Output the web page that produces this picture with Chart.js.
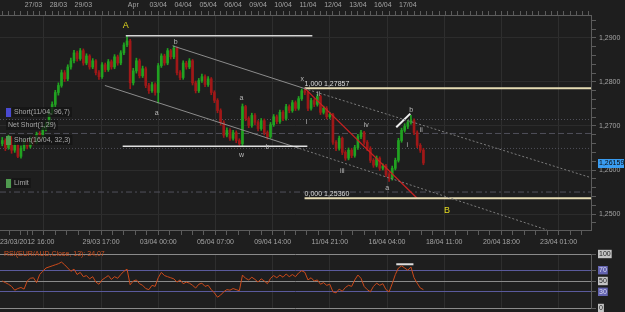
<!DOCTYPE html>
<html>
<head>
<meta charset="utf-8">
<script src="https://cdn.jsdelivr.net/npm/chart.js@4.4.1/dist/chart.umd.min.js"></script>
<style>
  html, body { margin: 0; padding: 0; background: #1e1e1e; }
  #wrap { position: relative; width: 625px; height: 312px; overflow: hidden; background: #1e1e1e; }
  #price-chart { position: absolute; left: 0; top: 0; }
  #rsi-chart { position: absolute; left: 0; top: 248px; }
</style>
</head>
<body>
<div id="wrap">
  <canvas id="price-chart" width="625" height="250"></canvas>
  <canvas id="rsi-chart" width="625" height="64"></canvas>
</div>
<script>
// EUR/AUD, 3 hour bars, bar 0 = 23/03/2012 18:00, bar 50 = 03/04 00:00
const firstOpen = 1.2660;
const closes = [
  1.2667,1.2651,1.2672,1.2645,1.2656,1.2631,1.2649,1.2665,1.2654,1.2672,
  1.2663,1.2681,1.2674,1.2694,1.2703,1.2731,1.2749,1.2776,1.2792,1.2821,
  1.2807,1.2834,1.2848,1.2866,1.2853,1.2871,1.2843,1.2859,1.2834,1.2848,
  1.2821,1.2812,1.2839,1.2828,1.2846,1.2834,1.2857,1.2843,1.2866,1.2884,
  1.2893,1.2798,1.2825,1.2848,1.2814,1.2830,1.2792,1.2780,1.2794,1.2776,
  1.2837,1.2859,1.2843,1.2871,1.2857,1.2877,1.2821,1.2810,1.2843,1.2834,
  1.2848,1.2798,1.2780,1.2803,1.2812,1.2794,1.2807,1.2776,1.2758,1.2735,
  1.2708,1.2679,1.2690,1.2672,1.2685,1.2667,1.2660,1.2744,1.2717,1.2701,
  1.2724,1.2708,1.2694,1.2712,1.2685,1.2676,1.2703,1.2721,1.2710,1.2731,
  1.2717,1.2744,1.2735,1.2753,1.2740,1.2762,1.2780,1.2776,1.2740,1.2758,
  1.2749,1.2767,1.2731,1.2740,1.2721,1.2726,1.2663,1.2649,1.2672,1.2640,
  1.2627,1.2645,1.2633,1.2651,1.2676,1.2685,1.2663,1.2649,1.2622,1.2611,
  1.2627,1.2604,1.2609,1.2590,1.2581,1.2604,1.2622,1.2667,1.2690,1.2699,
  1.2708,1.2712,1.2685,1.2656,1.2645,1.2616
];
const highs = [
  1.2674,1.2671,1.2679,1.2676,1.2662,1.2659,1.2655,1.2670,1.2669,1.2677,
  1.2678,1.2686,1.2687,1.2699,1.2709,1.2736,1.2755,1.2781,1.2798,1.2827,
  1.2826,1.2839,1.2854,1.2872,1.2870,1.2876,1.2875,1.2864,1.2862,1.2853,
  1.2851,1.2826,1.2844,1.2843,1.2851,1.2850,1.2862,1.2861,1.2871,1.2889,
  1.2905,1.2897,1.2831,1.2854,1.2852,1.2836,1.2834,1.2797,1.2799,1.2798,
  1.2842,1.2864,1.2863,1.2876,1.2874,1.2882,1.2880,1.2826,1.2848,1.2847,
  1.2853,1.2851,1.2802,1.2808,1.2818,1.2816,1.2812,1.2810,1.2780,1.2762,
  1.2739,1.2712,1.2696,1.2694,1.2690,1.2689,1.2671,1.2750,1.2747,1.2721,
  1.2729,1.2728,1.2712,1.2717,1.2716,1.2689,1.2708,1.2726,1.2725,1.2736,
  1.2735,1.2749,1.2748,1.2758,1.2757,1.2767,1.2784,1.2786,1.2779,1.2763,
  1.2762,1.2772,1.2770,1.2745,1.2744,1.2731,1.2729,1.2667,1.2677,1.2675,
  1.2644,1.2650,1.2649,1.2656,1.2681,1.2690,1.2688,1.2667,1.2653,1.2626,
  1.2632,1.2630,1.2614,1.2613,1.2594,1.2609,1.2627,1.2672,1.2695,1.2705,
  1.2713,1.2724,1.2716,1.2689,1.2660,1.2649
];
const lows = [
  1.2655,1.2644,1.2647,1.2638,1.2640,1.2628,1.2627,1.2644,1.2648,1.2650,
  1.2657,1.2659,1.2668,1.2670,1.2689,1.2699,1.2726,1.2744,1.2770,1.2788,
  1.2801,1.2803,1.2829,1.2843,1.2847,1.2849,1.2838,1.2839,1.2829,1.2830,
  1.2816,1.2806,1.2808,1.2823,1.2824,1.2829,1.2830,1.2838,1.2839,1.2862,
  1.2880,1.2785,1.2793,1.2820,1.2809,1.2810,1.2787,1.2774,1.2776,1.2770,
  1.2752,1.2833,1.2838,1.2839,1.2852,1.2853,1.2816,1.2805,1.2806,1.2829,
  1.2830,1.2793,1.2775,1.2776,1.2799,1.2789,1.2790,1.2771,1.2753,1.2730,
  1.2702,1.2674,1.2675,1.2667,1.2668,1.2662,1.2656,1.2654,1.2712,1.2696,
  1.2697,1.2703,1.2689,1.2690,1.2680,1.2670,1.2672,1.2699,1.2705,1.2706,
  1.2712,1.2713,1.2730,1.2731,1.2735,1.2736,1.2758,1.2771,1.2735,1.2736,
  1.2744,1.2745,1.2726,1.2727,1.2716,1.2717,1.2658,1.2644,1.2645,1.2635,
  1.2622,1.2623,1.2628,1.2629,1.2647,1.2671,1.2658,1.2644,1.2617,1.2606,
  1.2607,1.2599,1.2600,1.2585,1.2574,1.2577,1.2600,1.2618,1.2663,1.2686,
  1.2694,1.2704,1.2680,1.2651,1.2640,1.2612
];
// RSI(13) on close
const rsiValues = [
  50,47,44,40,33,36,38,35,50,55,
  56,47,62,68,74,76,78,80,82,85,
  80,74,68,72,62,66,58,60,54,58,
  48,44,52,56,60,53,58,55,62,68,
  72,43,50,52,45,42,36,34,42,40,
  56,66,60,58,56,54,48,52,45,48,
  46,42,37,44,46,40,42,34,28,20,
  24,30,34,33,36,34,32,61,55,52,
  57,53,48,54,50,45,55,60,56,61,
  57,63,58,62,58,65,69,66,52,56,
  50,52,44,47,42,44,30,28,35,31,
  38,42,40,52,61,55,40,34,30,40,
  46,42,45,34,30,45,62,74,78,74,
  70,76,56,46,37,34.07
];

// axis labels
const dayLabels = ['27/03','28/03','29/03','','Apr','03/04','04/04','05/04','06/04',
                   '09/04','10/04','11/04','12/04','13/04','16/04','17/04'];
const timeLabels = ['29/03 17:00','03/04 00:00','05/04 07:00','09/04 14:00','11/04 21:00',
                    '16/04 04:00','18/04 11:00','20/04 18:00','23/04 01:00'];
const firstTimeLabel = '23/03/2012 16:00';
const priceLabels = [1.25, 1.26, 1.27, 1.28, 1.29];
const rsiLevels = [0, 30, 50, 70, 100];
const lastPrice = 1.26159;

// drawn objects: [bar, price]
const lineA = [[39.6, 1.2905], [99.4, 1.2905]];
const lineW = [[38.6, 1.2654], [97.8, 1.2654]];
const channelTop = [[54.6, 1.2882], [96.9, 1.2785]];
const channelTopExt = [[96.9, 1.2785], [188.1, 1.2584]];
const channelLow = [[32.9, 1.2792], [95.3, 1.2649]];
const channelLowExt = [[95.3, 1.2649], [174.6, 1.2464]];
const redTrend = [[96.9, 1.2786], [133.0, 1.2536]];
const whiteSwing = [[126.3, 1.2697], [130.8, 1.2728]];
const fibLevels = [1.27857, 1.25360];
const fibNames = ['1,000 1,27857', '0,000 1,25360'];
const orderLevels = [1.27147, 1.26830, 1.26490, 1.25500];
const rsiMark = [[126.3, 81], [131.8, 81]];

const waveText  = ['A', 'b', 'a', 'a', 'w', 'b', 'x', 'ii', 'i', 'iv', 'iii', 'a', 'b', 'ii', 'i', 'B'];
const waveBar   = [39.6, 55.6, 49.5, 76.7, 76.7, 85.0, 96.2, 101.4, 97.5, 116.7, 109.0, 123.4, 131.1, 134.3, 129.8, 142.6];
const wavePrice = [1.2929, 1.2891, 1.2730, 1.2764, 1.2633, 1.2651, 1.2807, 1.2773, 1.2710, 1.2701, 1.2597, 1.2559, 1.2737, 1.2690, 1.2656, 1.2509];

const X_MIN = -0.72, X_MAX = 188.72;
const FONT = 'Liberation Sans';
Chart.defaults.font.family = FONT;
Chart.defaults.font.size = 7;

// --- candles ---
const opens = [firstOpen].concat(closes.slice(0, -1));
const bodies = closes.map((c, i) => ({ x: i, y: [opens[i], c] }));
const wicks = closes.map((c, i) => ({ x: i, y: [lows[i], highs[i]] }));
const candleColors = closes.map((c, i) => c >= opens[i] ? '#21a221' : '#a01818');

function pts(list) { return list.map(p => ({ x: p[0], y: p[1] })); }
function seg(list, color, width, dash) {
  return { type: 'line', data: pts(list), borderColor: color, borderWidth: width,
           borderDash: dash || [], pointRadius: 0, fill: false, tension: 0, order: 1 };
}
function hline(level, dash) {
  return { type: 'line', data: [{ x: X_MIN, y: level }, { x: X_MAX, y: level }],
           borderColor: '#50505a', borderWidth: 1, borderDash: dash,
           pointRadius: 0, fill: false, order: 20 };
}

// tick lists
const topTicks = [];
for (let b = 0; b <= 188; b += 2) {
  const k = (b - 10) / 8;
  const lbl = (Number.isInteger(k) && k >= 0 && k < dayLabels.length) ? dayLabels[k] : '';
  topTicks.push({ value: b, label: lbl });
}
const bottomTicks = [{ value: 8.0, label: firstTimeLabel, grid: false }];
const step = 55 / 3;
for (let m = 0; ; m++) {
  const v = 13.333 - 3 * step / 5 + m * step / 5;
  if (v > X_MAX) break;
  const k = Math.round((v - 13.333) / step);
  const major = m % 5 === 3;
  bottomTicks.push({ value: v, label: major && k >= 1 ? timeLabels[k - 1] : '', grid: major });
}
bottomTicks.sort((a, b) => a.value - b.value);
const majorXTicks = bottomTicks.filter(t => t.grid).map(t => t.value);

const priceTicks = [];
for (let k = 624; k <= 647; k++) priceTicks.push(k * 0.002);
function isMajorPrice(v) { return priceLabels.some(p => Math.abs(p - v) < 1e-6); }

// --- overlay texts for the price panel ---
const priceOverlay = {
  id: 'priceOverlay',
  afterDraw(chart) {
    const { ctx, scales: { x, y } } = chart;
    ctx.save();
    ctx.textAlign = 'center';
    ctx.textBaseline = 'middle';
    waveText.forEach((t, i) => {
      const big = t === 'A' || t === 'B';
      ctx.font = (big ? '9px ' : '7px ') + '"' + FONT + '"';
      ctx.fillStyle = big ? '#e6dc1e' : '#b8b8b8';
      ctx.fillText(t, x.getPixelForValue(waveBar[i]), y.getPixelForValue(wavePrice[i]));
    });
    ctx.font = '7px "' + FONT + '"';
    ctx.textAlign = 'left';
    ctx.textBaseline = 'bottom';
    ctx.fillStyle = '#dcdcdc';
    fibLevels.forEach((lv, i) => {
      ctx.fillText(fibNames[i], x.getPixelForValue(96.9), y.getPixelForValue(lv) - 1);
    });
    // order tags on the left
    const tags = [
      { text: 'Short(11/04, 96,7)', sq: '#4a4ad2', py: 112 },
      { text: 'Net Short(1,29)', sq: null, py: 125 },
      { text: 'Short(16/04, 32,3)', sq: '#4f9a4f', py: 140 },
      { text: 'Limit', sq: '#4f9a4f', py: 183 }
    ];
    ctx.textBaseline = 'middle';
    tags.forEach(t => {
      const w = ctx.measureText(t.text).width;
      const tx = t.sq ? 14 : 8;
      ctx.fillStyle = 'rgba(20,20,20,0.75)';
      ctx.fillRect(tx - 2, t.py - 5, w + 4, 10);
      if (t.sq) { ctx.fillStyle = t.sq; ctx.fillRect(6, t.py - 4, 5, 9); }
      ctx.fillStyle = '#a8a8a8';
      ctx.fillText(t.text, tx, t.py);
    });
    // last price tag
    const py = y.getPixelForValue(lastPrice);
    ctx.fillStyle = '#3a9df2';
    ctx.fillRect(598, py - 4, 26, 9);
    ctx.fillStyle = '#0a0a0a';
    ctx.fillText(lastPrice.toFixed(5).replace('.', ','), 599, py + 0.5);
    ctx.restore();
  }
};

new Chart(document.getElementById('price-chart'), {
  type: 'bar',
  data: {
    datasets: [
      hline(orderLevels[0], [1, 2]),
      hline(orderLevels[1], [6, 3]),
      hline(orderLevels[2], [1, 2]),
      hline(orderLevels[3], [6, 3, 2, 3]),
      { label: 'wicks', data: wicks, backgroundColor: candleColors, barThickness: 1, grouped: false, order: 6 },
      { label: 'bodies', data: bodies, backgroundColor: candleColors, barThickness: 2, grouped: false, order: 5 },
      seg(lineA, '#d6d6d6', 1.5),
      seg(lineW, '#e0e0e0', 1.5),
      seg(channelTop, '#8c8c8c', 1),
      seg(channelTopExt, '#7c7c7c', 1, [2, 2]),
      seg(channelLow, '#8c8c8c', 1),
      seg(channelLowExt, '#7c7c7c', 1, [2, 2]),
      seg([[96.9, fibLevels[0]], [X_MAX, fibLevels[0]]], '#e6dcb4', 2),
      seg([[96.9, fibLevels[1]], [X_MAX, fibLevels[1]]], '#e6dcb4', 2),
      seg(redTrend, '#c82222', 1.3),
      seg(whiteSwing, '#f0f0f0', 2)
    ]
  },
  options: {
    responsive: false,
    animation: false,
    layout: { padding: 0 },
    plugins: { legend: { display: false }, tooltip: { enabled: false } },
    scales: {
      x: {
        type: 'linear', position: 'bottom', min: X_MIN, max: X_MAX, offset: false,
        afterBuildTicks: s => { s.ticks = bottomTicks.map(t => ({ value: t.value })); },
        afterFit: s => { s.height = 20; s.paddingLeft = 0; s.paddingRight = 0; },
        ticks: { autoSkip: false, maxRotation: 0, color: '#a4a4a4', padding: 3,
                 callback: (v, i) => bottomTicks[i].label },
        grid: { offset: false, tickLength: 5, tickColor: '#5c5c5c',
                color: c => (c.tick && bottomTicks[c.index] && bottomTicks[c.index].grid) ? '#2e2e2e' : 'rgba(0,0,0,0)' },
        border: { color: '#5c5c5c' }
      },
      xTop: {
        type: 'linear', position: 'top', min: X_MIN, max: X_MAX, offset: false,
        afterBuildTicks: s => { s.ticks = topTicks.map(t => ({ value: t.value })); },
        afterFit: s => { s.height = 15; s.paddingLeft = 0; s.paddingRight = 0; },
        ticks: { autoSkip: false, maxRotation: 0, color: '#a4a4a4', padding: 2,
                 callback: (v, i) => topTicks[i].label },
        grid: { offset: false, drawOnChartArea: false, tickLength: 4, color: '#5c5c5c' },
        border: { color: '#5c5c5c' }
      },
      y: {
        type: 'linear', position: 'right', min: 1.24638, max: 1.2952,
        afterBuildTicks: s => { s.ticks = priceTicks.map(v => ({ value: v })); },
        afterFit: s => { s.width = 34; s.paddingTop = 0; s.paddingBottom = 0; },
        ticks: { autoSkip: false, color: '#a4a4a4', padding: 3,
                 callback: v => isMajorPrice(v) ? v.toFixed(4).replace('.', ',') : '' },
        grid: { tickLength: 5, tickColor: '#5c5c5c',
                color: c => (c.tick && isMajorPrice(c.tick.value)) ? '#2c2c2c' : 'rgba(0,0,0,0)' },
        border: { color: '#5c5c5c' }
      }
    }
  },
  plugins: [priceOverlay]
});

// --- RSI panel ---
const rsiOverlay = {
  id: 'rsiOverlay',
  afterDraw(chart) {
    const { ctx } = chart;
    ctx.save();
    ctx.font = '7px "' + FONT + '"';
    ctx.fillStyle = '#cc4f1e';
    ctx.textBaseline = 'middle';
    ctx.fillText('RSI(EUR/AUD,Close, 13): ' + String(rsiValues[rsiValues.length - 1]).replace('.', ','), 4, 6);
    ctx.restore();
  }
};
function isPurple(v) { return v === 30 || v === 70; }

new Chart(document.getElementById('rsi-chart'), {
  type: 'line',
  data: {
    datasets: [
      { data: rsiValues.map((v, i) => ({ x: i, y: v })), borderColor: '#cc4a1a', borderWidth: 1,
        pointRadius: 0, fill: false, tension: 0 },
      { data: pts(rsiMark), borderColor: '#dddddd', borderWidth: 2, pointRadius: 0, fill: false }
    ]
  },
  options: {
    responsive: false,
    animation: false,
    layout: { padding: { top: 6, bottom: 4, left: 0, right: 0 } },
    plugins: { legend: { display: false }, tooltip: { enabled: false } },
    scales: {
      x: {
        type: 'linear', min: X_MIN, max: X_MAX, offset: false,
        afterBuildTicks: s => { s.ticks = majorXTicks.map(v => ({ value: v })); },
        afterFit: s => { s.height = 0; s.paddingLeft = 0; s.paddingRight = 0; },
        ticks: { display: false },
        grid: { color: '#2e2e2e', drawTicks: false },
        border: { display: false }
      },
      y: {
        type: 'linear', position: 'right', min: 0, max: 100,
        afterBuildTicks: s => { s.ticks = rsiLevels.map(v => ({ value: v })); },
        afterFit: s => { s.width = 34; s.paddingTop = 0; s.paddingBottom = 0; },
        ticks: {
          autoSkip: false, padding: 3,
          color: c => isPurple(c.tick.value) ? '#d8d8f0' : '#222222',
          showLabelBackdrop: true,
          backdropColor: c => isPurple(c.tick.value) ? '#6464b0' : '#c4c4c4',
          backdropPadding: { x: 1, y: 0 }
        },
        grid: { tickLength: 5, tickColor: '#5c5c5c',
                color: c => c.tick ? (isPurple(c.tick.value) ? '#5a5a9c' : '#8a8a8a') : 'rgba(0,0,0,0)' },
        border: { color: '#5c5c5c' }
      }
    }
  },
  plugins: [rsiOverlay]
});
</script>
</body>
</html>
